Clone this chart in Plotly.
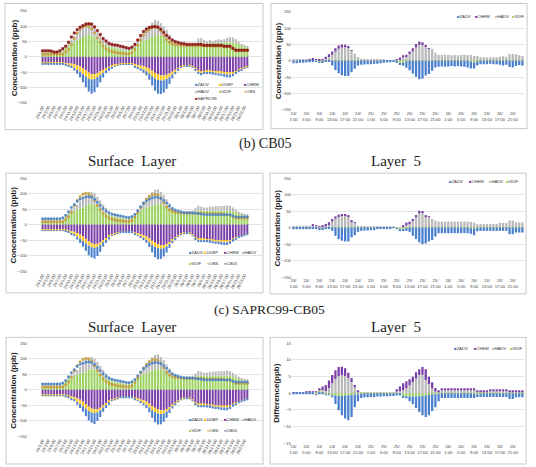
import plotly.graph_objects as go

W, H = 536, 467

# ---------------- categories / ticks ----------------
days = [24, 25, 26]
hours = list(range(1, 25))
categories = [f"{d}/{h}:00" for d in days for h in hours]
left_tickvals = categories[::2]
right_tickvals = categories[::4]
right_ticktext = [c.replace("/", "/<br>") for c in right_tickvals]
conc_ticks = [-150, -100, -50, 0, 50, 100, 150]
diff_ticks = [-15, -10, -5, 0, 5, 10, 15]

# ---------------- Surface layer, SAPRC99 ----------------
s_vdif = [14,14,14,14,12,12,14,18,30,38, 45,50,55,60,65,70,72,70,65,55, 48,42,38,35,33,30,28,25,22,20,
          20,25,32,40,50,53,56,60,66,70, 72,70,66,62,55,48,42,40,38,38, 37,37,37,38,46,47,45,43,45,45,
          46,46,46,47,48,48,47,45,42,38, 34,32]
s_hadv = [7,7,7,6,4,4,6,7,8,10, 12,18,25,29,35,38,41,41,33,25, 20,15,10,8,8,9,10,8,8,10,
          7,7,9,12,18,29,36,40,46,51, 46,40,34,27,18,9,4,1,3,3, 3,3,3,4,14,15,10,7,10,7,
          9,11,10,11,14,16,16,13,8,5, 4,3]
s_chem = [-19,-19,-19,-19,-19,-19,-19,-19,-20,-21, -22,-24,-27,-31,-37,-44,-51,-56,-56,-52,
          -47,-42,-36,-32,-28,-25,-23,-22,-22,-22, -22,-22,-24,-26,-28,-30,-33,-38,-45,-52,
          -57,-60,-60,-58,-54,-48,-42,-36,-30,-28, -27,-28,-30,-36,-45,-48,-46,-44,-45,-46,
          -47,-48,-48,-50,-51,-52,-50,-46,-42,-38, -34,-31]
s_ddep = [-3,-3,-3,-3,-3,-3,-3,-3,-5,-7, -9,-12,-15,-17,-19,-20,-20,-18,-16,-14,
          -12,-10,-8,-7,-6,-5,-4,-2,-2,-2, -2,-2,-6,-8,-10,-12,-14,-16,-18,-18,
          -18,-17,-16,-14,-12,-9,-7,-5,-3,-2, -2,-2,-3,-4,-5,-6,-5,-5,-6,-6,
          -6,-6,-6,-6,-6,-6,-5,-4,-3,-2, -2,-2]
s_zadv = [-2,-2,-2,-2,-2,-2,-2,-2,-2,-3, -5,-8,-13,-19,-27,-35,-42,-46,-43,-33,
          -24,-15,-9,-6,-4,-2,-2,-1,-1,-1, -1,-1,-4,-6,-7,-10,-13,-20,-30,-40,
          -45,-44,-40,-32,-22,-13,-7,-4,-2,-1, -1,-1,-2,-3,-5,-6,-5,-4,-5,-6,
          -6,-7,-8,-9,-10,-9,-8,-6,-4,-3, -2,-2]
saprc99 = [20,20,20,19,16,16,20,27,35,48, 65,78,89,97,102,107,108,107,98,86,
           73,60,52,44,41,39,38,35,33,30, 28,32,41,55,70,83,91,96,98,99,
           97,90,80,70,62,55,50,47,44,43, 41,41,41,41,41,41,38,38,38,38,
           38,38,38,35,35,35,28,22,22,22, 22,22]
obs = [9,9,9,9,9,9,9,9,16,25, 40,60,78,90,98,101,100,92,78,62,
       48,36,27,21,18,15,13,12,11,10, 10,14,24,38,55,70,82,90,96,98,
       95,85,70,57,48,43,40,39,37,37, 37,37,37,37,37,37,35,35,35,35,
       35,35,35,32,32,32,27,21,21,21, 21,21]

# ---------------- Surface layer, CB05 ----------------
c_vdif = [12,12,12,12,12,12,12,16,25,35, 40,45,48,52,55,60,65,68,65,58, 50,42,36,32,28,26,24,22,20,18,
          18,22,28,36,45,50,55,58,62,65, 68,66,62,58,52,46,42,40,40,40, 40,40,40,42,45,45,45,45,45,45,
          45,45,45,45,45,45,42,40,36,33, 30,28]
c_hadv = [9,9,9,9,6,6,6,8,7,8, 8,8,16,22,30,36,38,38,36,32, 28,22,17,11,9,9,8,7,7,6,
          5,7,9,12,13,25,31,38,43,47, 46,40,34,24,17,10,6,6,5,4, 3,3,5,11,16,13,10,10,13,13,
          14,15,15,16,17,15,13,8,6,5, 5,4]
c_chem = [-16,-16,-16,-16,-16,-16,-16,-16,-17,-19, -21,-23,-27,-32,-38,-46,-54,-60,-63,-62,
          -58,-50,-44,-37,-31,-28,-26,-22,-22,-22, -22,-22,-26,-28,-31,-34,-38,-44,-52,-58,
          -63,-66,-66,-62,-56,-48,-42,-35,-30,-27, -26,-27,-32,-42,-46,-45,-46,-47,-48,-49,
          -50,-50,-51,-52,-52,-50,-46,-42,-38,-34, -31,-29]
c_ddep = [-2,-2,-2,-2,-2,-2,-2,-2,-3,-5, -7,-9,-12,-14,-15,-15,-14,-13,-12,-10,
          -8,-7,-6,-5,-4,-3,-2,-2,-2,-2, -2,-2,-4,-6,-7,-9,-11,-13,-14,-14,
          -13,-12,-10,-8,-7,-5,-4,-3,-2,-1, -1,-1,-2,-4,-5,-5,-5,-5,-5,-5,
          -5,-5,-5,-5,-5,-4,-3,-3,-2,-2, -1,-1]
c_zadv = [-1,-1,-1,-1,-1,-1,-1,-1,-1,-3, -4,-5,-9,-13,-18,-24,-31,-33,-35,-29,
          -22,-14,-9,-6,-2,-1,-1,-1,-1,-1, -1,-1,-2,-3,-5,-7,-10,-15,-24,-33,
          -36,-33,-27,-20,-12,-7,-4,-2,-1,-1, -1,-1,-1,-3,-4,-4,-4,-5,-6,-6,
          -7,-8,-9,-9,-9,-8,-6,-4,-3,-2, -2,-1]
cb05 = [19,19,19,19,19,19,19,22,30,42, 55,65,75,82,86,89,90,88,82,72,
        62,52,44,38,34,32,30,28,26,24, 23,26,33,45,58,68,76,82,86,88,
        88,84,78,70,60,52,47,44,41,39, 38,38,38,37,35,34,32,32,32,32,
        32,32,32,32,32,32,28,25,25,25, 25,25]

# ---------------- Layer 5, SAPRC99 ----------------
t5_hadv = [4,4,3,3,4,4,5,5,2,3, 5,11,18,28,36,40,41,40,30,21, 11,6,5,4,4,4,3,3,3,2,
           2,2,3,5,10,12,20,28,40,48, 50,43,37,36,24,18,17,18,17,16, 17,16,17,18,17,18,16,15,10,10,
           10,9,10,10,12,13,12,20,21,19, 16,14]
t5_chem = [0,0,0,0,0,1,2,1,1,3, 6,8,10,10,10,9,7,4,1,0, 0,0,0,0,0,0,0,0,0,0,
           0,0,2,5,7,7,8,10,11,10, 6,3,1,0,0,0,0,0,0,0, 0,0,0,0,0,0,0,0,0,0,
           0,0,0,0,0,0,0,0,0,0, 0,0]
t5_vdif = [0.5,0.5,0.5,0.5,0.5,0.5,0.5,-1,-5,-3, 2,1,1,1,1,1,1,1,1,1,
           1,0.5,0.5,0.5,0.5,0.5,0.5,0.5,0.5,0.5, 0.5,0.5,-2,-8,-6,-2,1,1,1,1,
           1,1,1,1,1,1,1,1,1,1, 1,1,1,1,1,-3,-5,-2,1,1,
           1,1,1,1,1,1,1,1,1,1, 1,1]
t5_zadv = [-7,-7,-6,-6,-5,-4,-2,-2,-1,-2, -2,-3,-14,-28,-38,-44,-46,-46,-35,-24,
           -14,-12,-11,-10,-10,-9,-9,-7,-6,-5, -4,-2,-2,-3,-9,-19,-29,-39,-49,-56,
           -55,-45,-40,-30,-20,-18,-17,-18,-17,-16, -17,-16,-17,-18,-20,-20,-18,-12,-10,-10,
           -10,-9,-10,-10,-12,-14,-12,-19,-20,-16, -13,-14]

# ---------------- Layer 5, CB05 ----------------
m5_hadv = [5,5,5,5,5,5,5,5,2,2, 4,9,17,26,31,34,35,32,18,14, 5,3,3,3,3,3,3,3,3,3,
           3,1,1,1,3,9,11,19,30,44, 44,33,32,25,20,17,17,17,17,17, 17,17,17,17,17,17,15,10,10,10,
           10,10,10,10,13,13,13,20,20,15, 15,15]
m5_chem = [0,0,0,0,0,0,2,2,1,5, 6,6,8,7,7,6,5,3,2,1, 0,0,0,0,0,0,0,0,0,0,
           0,0,0,0,4,6,6,6,7,6, 4,2,1,0,0,0,0,0,0,0, 0,0,0,0,0,0,0,0,0,0,
           0,0,0,0,0,0,0,0,0,0, 0,0]
m5_vdif = [0.5,0.5,0.5,0.5,0.5,0.5,0.5,-1,-4,-3, 1,1,1,1,1,1,1,1,1,1,
           0.5,0.5,0.5,0.5,0.5,0.5,0.5,0.5,0.5,0.5, 0.5,0.5,-2,-7,-6,-2,1,1,1,1,
           1,1,1,1,1,1,1,1,1,1, 1,1,1,1,1,-2,-3,-1,1,1,
           1,1,1,1,1,1,1,1,1,1, 1,1]
m5_zadv = [-5,-5,-5,-5,-5,-4,-2,-2,-2,-2, -2,-2,-10,-25,-35,-40,-42,-42,-30,-23,
           -13,-10,-9,-9,-8,-8,-5,-4,-3,-2, -2,-1,-1,-1,-2,-8,-13,-25,-35,-45,
           -50,-48,-42,-38,-27,-17,-17,-17,-17,-17, -17,-17,-17,-17,-17,-17,-20,-10,-10,-10,
           -10,-10,-10,-10,-10,-10,-10,-20,-20,-15, -15,-15]

# ---------------- Layer 5, SAPRC99 - CB05 difference ----------------
d5_hadv = [0.1,0.1,0.1,0.1,0.3,0.3,0.3,0.3,0.2,0.4, 0.7,1.5,3.0,4.3,5.2,5.4,5.2,4.6,3.4,2.0,
           0.5,0.2,0.2,0.2,0.2,0.2,0.2,0.2,0.2,0.2, 0.2,0.2,0.3,0.6,1.0,1.5,2.3,3.3,4.4,5.5,
           5.6,4.0,2.8,1.4,0.5,0.3,1.1,1.1,1.1,1.1, 1.1,1.1,1.1,1.1,1.1,1.1,1.0,0.5,0.5,0.5,
           0.5,0.7,0.7,0.7,0.7,0.7,0.7,0.5,0.5,0.5, 0.5,0.5]
d5_chem = [0.1,0.1,0.1,0.1,0.2,0.2,0.2,0.2,0.3,1.0, 1.8,2.3,2.5,2.6,2.7,2.6,2.3,1.6,1.2,0.5,
           0.1,0,0,0,0,0,0,0,0,0, 0,0,0.7,1.4,2.0,2.1,1.9,1.7,1.9,1.7,
           2.3,3.2,2.2,1.9,1.1,0.3,0.2,0.2,0.2,0.2, 0.2,0.2,0.2,0.2,0.2,0.2,0.2,0.1,0.1,0.1,
           0.1,0.3,0.3,0.3,0.3,0.3,0.3,0.1,0.1,0.1, 0.1,0.1]
d5_vdif = [0,0,0,0,0,0,0,-0.4,0.8,0.6, -0.4,-0.5,-0.6,-0.7,-0.8,-0.8,-0.7,-0.6,-0.5,-0.4,
           -0.3,-0.2,-0.1,-0.1,-0.1,-0.1,-0.1,-0.1,-0.1,-0.1, -0.1,-0.1,0.2,-0.3,-0.8,-1.0,-1.0,-1.0,-1.0,-0.9,
           -0.8,-0.7,-0.5,-0.4,-0.3,-0.2,-0.1,-0.1,-0.1,-0.1, -0.1,-0.1,-0.1,-0.1,-0.1,-0.1,-0.2,-0.3,-0.2,-0.1,
           -0.1,-0.1,-0.1,-0.1,-0.1,-0.1,-0.1,-0.1,-0.1,-0.1, -0.1,-0.1]
d5_zadv = [-0.2,-0.2,-0.3,-0.3,-0.3,-0.3,-0.2,-0.1,-0.3,-0.3, -0.2,-0.1,-0.6,-2.5,-4.3,-5.8,-6.9,-7.5,-6.6,-3.8,
           -2.1,-1.2,-1.1,-1.1,-1.0,-1.0,-0.9,-0.9,-0.8,-0.8, -0.7,-0.7,-0.7,-0.4,-0.6,-0.4,-1.4,-2.2,-3.4,-4.7,
           -5.8,-6.4,-6.1,-4.9,-3.9,-2.2,-1.3,-1.3,-1.3,-1.3, -1.3,-1.3,-1.3,-1.3,-1.3,-1.3,-1.2,-0.8,-0.9,-1.0,
           -1.0,-1.0,-1.0,-1.0,-1.0,-1.0,-1.0,-1.6,-1.6,-1.1, -1.1,-1.1]

# ---------------- styling ----------------
COL = dict(ZADV="#4a7fcf", DDEP="#fcc419", CHEM="#7b3fa8", HADV="#b9b9b9", VDIF="#9bd15e")
OBS_COL, OBS_EDGE = "#d9ad4a", "#a77d1f"
SAPRC_COL = "#8e1b1b"
CB05_COL = "#4f86c6"
SANS = "Liberation Sans"
SERIF = "Liberation Serif"

fig = go.Figure()


def ax_suffix(n):
    return "" if n == 1 else str(n)


def add_bars(n, series):
    s = ax_suffix(n)
    for name, vals in series:
        fig.add_trace(go.Bar(x=categories, y=vals, name=name, marker_color=COL[name],
                             marker_line_width=0, xaxis="x" + s, yaxis="y" + s,
                             showlegend=False))


def add_markers(n, name, vals, color, symbol, edge=None):
    s = ax_suffix(n)
    fig.add_trace(go.Scatter(x=categories, y=vals, name=name, mode="markers",
                             marker=dict(color=color, size=2.4, symbol=symbol,
                                         line=dict(color=edge or color, width=0.4)),
                             xaxis="x" + s, yaxis="y" + s, showlegend=False))


# Panel 1: surface SAPRC99
add_bars(1, [("VDIF", s_vdif), ("HADV", s_hadv), ("CHEM", s_chem), ("DDEP", s_ddep), ("ZADV", s_zadv)])
add_markers(1, "OBS", obs, OBS_COL, "circle", OBS_EDGE)
add_markers(1, "SAPRC99", saprc99, SAPRC_COL, "square")
# Panel 2: layer 5 SAPRC99
add_bars(2, [("VDIF", t5_vdif), ("HADV", t5_hadv), ("CHEM", t5_chem), ("ZADV", t5_zadv)])
# Panel 3: surface CB05
add_bars(3, [("VDIF", c_vdif), ("HADV", c_hadv), ("CHEM", c_chem), ("DDEP", c_ddep), ("ZADV", c_zadv)])
add_markers(3, "OBS", obs, OBS_COL, "circle", OBS_EDGE)
add_markers(3, "CB05", cb05, CB05_COL, "circle")
# Panel 4: layer 5 CB05
add_bars(4, [("VDIF", m5_vdif), ("HADV", m5_hadv), ("CHEM", m5_chem), ("ZADV", m5_zadv)])
# Panel 5: surface (as shown in the figure)
add_bars(5, [("VDIF", c_vdif), ("HADV", c_hadv), ("CHEM", c_chem), ("DDEP", c_ddep), ("ZADV", c_zadv)])
add_markers(5, "OBS", obs, OBS_COL, "circle", OBS_EDGE)
add_markers(5, "CB05", cb05, CB05_COL, "circle")
# Panel 6: layer 5 difference
add_bars(6, [("VDIF", d5_vdif), ("HADV", d5_hadv), ("CHEM", d5_chem), ("ZADV", d5_zadv)])


def fx(p):
    return p / W


def fy(p):
    return 1 - p / H


# plot-area pixel boxes: (x0, x1, ytop, ybottom), side, y range
panels = {
    1: ((26, 261, 8, 101), "L", 150),
    2: ((291, 524, 9, 108), "R", 150),
    3: ((26, 261, 177, 271), "L", 150),
    4: ((291, 524, 177, 277), "R", 150),
    5: ((26, 261, 344, 438), "L", 150),
    6: ((291, 524, 344, 445), "R", 15),
}

layout = {}
for n, ((x0, x1, yt, yb), side, rng) in panels.items():
    s = ax_suffix(n)
    xa = dict(domain=[fx(x0), fx(x1)], anchor="y" + s, type="category",
              categoryorder="array", categoryarray=categories,
              showgrid=False, zeroline=False, showline=False, ticks="",
              tickfont=dict(family=SANS, size=4.2, color="#444"))
    if side == "L":
        xa.update(tickmode="array", tickvals=left_tickvals, ticktext=left_tickvals, tickangle=-62)
    else:
        xa.update(tickmode="array", tickvals=right_tickvals, ticktext=right_ticktext, tickangle=0)
    ticks = conc_ticks if rng == 150 else diff_ticks
    ya = dict(domain=[fy(yb), fy(yt)], anchor="x" + s, range=[-rng, rng],
              tickmode="array", tickvals=ticks, showgrid=True, gridcolor="#e3e3e3",
              gridwidth=0.6, zeroline=False, showline=False, ticks="",
              tickfont=dict(family=SANS, size=4.2, color="#444"))
    layout["xaxis" + s] = xa
    layout["yaxis" + s] = ya

fig.update_layout(**layout)

shapes = []
for (bx0, by0, bx1, by1) in [(3, 0.5, 262, 128), (270, 0.5, 527, 127),
                             (4, 172, 262, 293), (269, 172, 526, 294),
                             (4, 338, 262, 466), (269, 338, 526, 466)]:
    shapes.append(dict(type="rect", xref="paper", yref="paper",
                       x0=fx(bx0), x1=fx(bx1), y0=fy(by1), y1=fy(by0),
                       line=dict(color="#c8c8c8", width=1), fillcolor="rgba(0,0,0,0)", layer="below"))

ann = []


def text(x, y, t, size, family=SANS, angle=0, bold=False, xanchor="center", color="#222"):
    if bold:
        t = f"<b>{t}</b>"
    ann.append(dict(x=fx(x), y=fy(y), xref="paper", yref="paper", text=t, showarrow=False,
                    textangle=angle, xanchor=xanchor, yanchor="middle",
                    font=dict(family=family, size=size, color=color)))


# captions / titles
text(264, 143, "(b)\u00a0CB05", 14, SERIF)
text(130, 160, "Surface\u00a0\u00a0Layer", 15, SERIF)
text(395, 160, "Layer\u00a0\u00a05", 15, SERIF)
text(268, 310, "(c)\u00a0SAPRC99-CB05", 13.5, SERIF)
text(130, 328, "Surface\u00a0\u00a0Layer", 15, SERIF)
text(395, 328, "Layer\u00a0\u00a05", 15, SERIF)

# axis titles
text(12, 55, "Concentration (ppb)", 8, angle=-90, bold=True)
text(277, 58, "Concentration (ppb)", 8, angle=-90, bold=True)
text(12, 224, "Concentration (ppb)", 8, angle=-90, bold=True)
text(277, 227, "Concentration (ppb)", 8, angle=-90, bold=True)
text(12, 391, "Concentration (ppb)", 8, angle=-90, bold=True)
text(276, 394, "Difference(ppb)", 8, angle=-90, bold=True)


def leg(x, y, glyph, color, label):
    ann.append(dict(x=fx(x), y=fy(y), xref="paper", yref="paper", showarrow=False,
                    xanchor="left", yanchor="middle",
                    text=f'<span style="color:{color}">{glyph}</span>{label}',
                    font=dict(family=SANS, size=4.2, color="#333")))


SQ, DOT = "\u25a0", "\u25cf"
# panel 1 legend
leg(192, 82, SQ, COL["ZADV"], "ZADV"); leg(216, 82, SQ, COL["DDEP"], "DDEP"); leg(241, 82, SQ, COL["CHEM"], "CHEM")
leg(192, 89.5, SQ, COL["HADV"], "HADV"); leg(216, 89.5, SQ, COL["VDIF"], "VDIF"); leg(241, 89.5, DOT, OBS_COL, "OBS")
leg(192, 97, SQ, SAPRC_COL, "SAPRC99")
# panel 2 legend
leg(455, 14, SQ, COL["ZADV"], "ZADV"); leg(473, 14, SQ, COL["CHEM"], "CHEM")
leg(493, 14, SQ, COL["HADV"], "HADV"); leg(510, 14, SQ, COL["VDIF"], "VDIF")
# panel 3 & 5 legends
for dy in (0, 169):
    leg(186, 252 + dy, SQ, COL["ZADV"], "ZADV"); leg(201, 252 + dy, SQ, COL["DDEP"], "DDEP")
    leg(221, 252 + dy, SQ, COL["CHEM"], "CHEM"); leg(239, 252 + dy, SQ, COL["HADV"], "HADV")
    leg(186, 263 + dy, SQ, COL["VDIF"], "VDIF"); leg(204, 263 + dy, DOT, OBS_COL, "OBS")
    leg(221, 263 + dy, DOT, CB05_COL, "CB05")
# panel 4 legend
leg(447, 180, SQ, COL["ZADV"], "ZADV"); leg(467, 180, SQ, COL["CHEM"], "CHEM")
leg(487, 180, SQ, COL["HADV"], "HADV"); leg(504, 180, SQ, COL["VDIF"], "VDIF")
# panel 6 legend
leg(452, 349, SQ, COL["ZADV"], "ZADV"); leg(472, 349, SQ, COL["CHEM"], "CHEM")
leg(490, 349, SQ, COL["HADV"], "HADV"); leg(508, 349, SQ, COL["VDIF"], "VDIF")

fig.update_layout(width=W, height=H, margin=dict(l=0, r=0, t=0, b=0),
                  paper_bgcolor="white", plot_bgcolor="white",
                  barmode="relative", bargap=0.3, showlegend=False,
                  shapes=shapes, annotations=ann)

fig.write_html("out.html", config={"displayModeBar": False},
               post_script="document.body.style.margin='0px';")
